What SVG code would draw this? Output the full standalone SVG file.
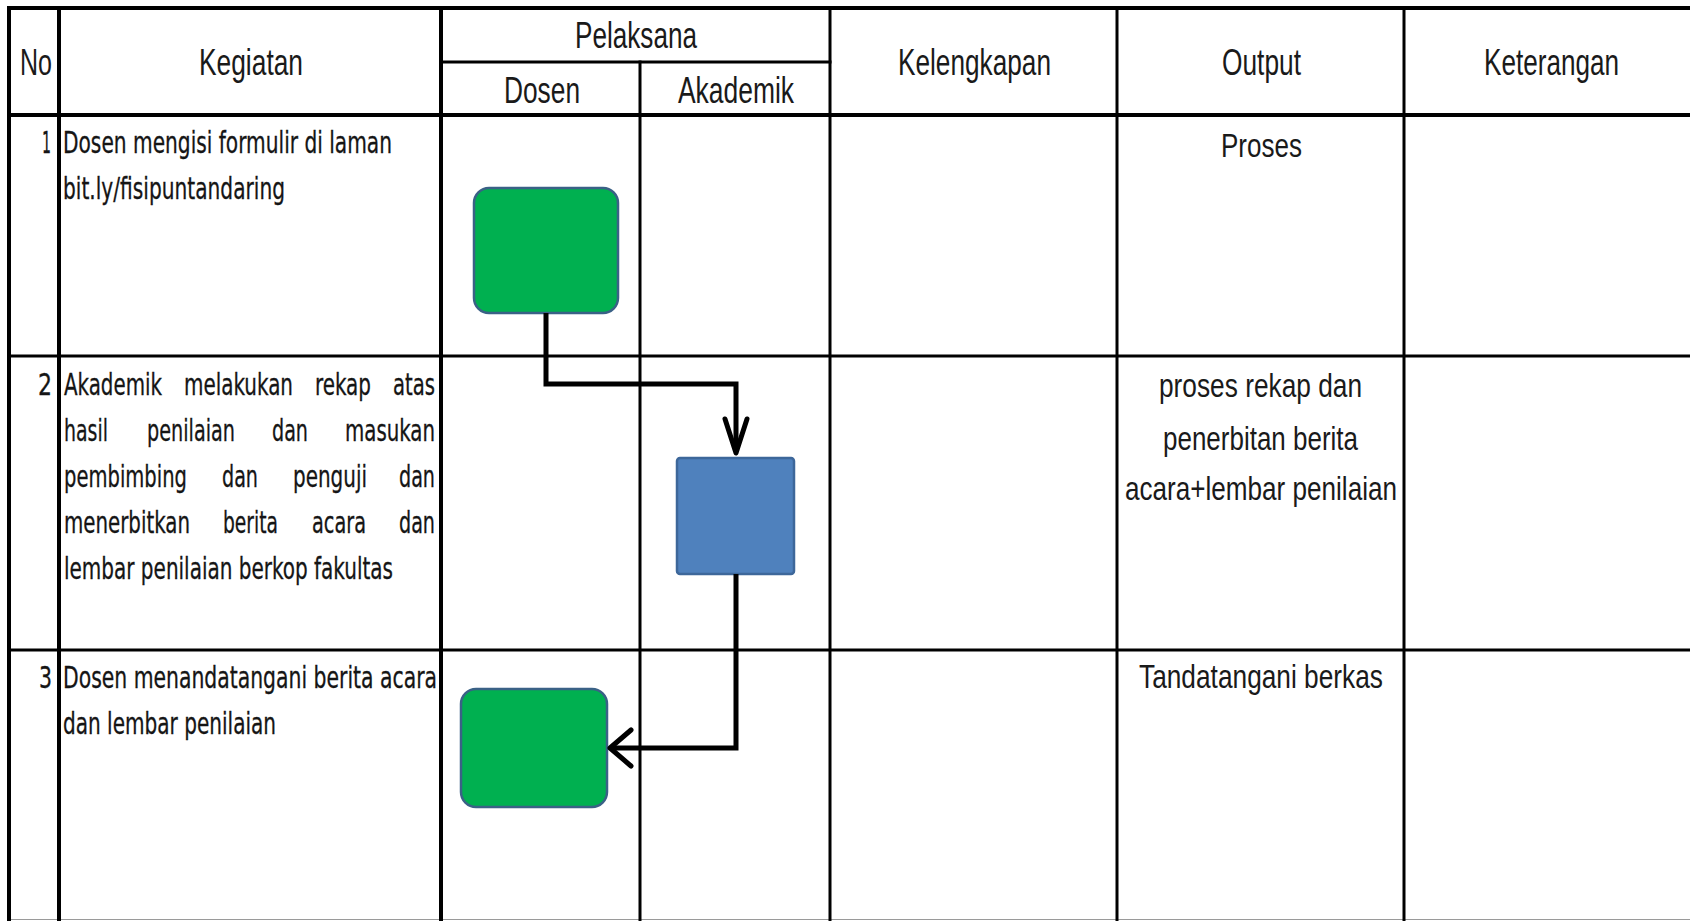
<svg xmlns="http://www.w3.org/2000/svg" width="1690" height="921" viewBox="0 0 1690 921">
  <style>
    .grid line { stroke: #000; stroke-linecap: square; }
    .thick { stroke-width: 4; }
    .mid { stroke-width: 3; }
    .hd { font-family: "Liberation Sans", Arial, sans-serif; font-size: 36px; fill: #1a1a1a; }
    .out { font-family: "Liberation Sans", Arial, sans-serif; font-size: 33px; fill: #1a1a1a; }
    .act { font-family: "DejaVu Sans Condensed", "DejaVu Sans", Verdana, sans-serif; font-size: 30px; fill: #151515; stroke: #151515; stroke-width: 0.3; }
    .start { fill: #00b050; stroke: #3a6186; stroke-width: 2.5; }
    .proc { fill: #4f81bd; stroke: #3d679a; stroke-width: 2.5; }
    .conn { fill: none; stroke: #000; stroke-width: 5; stroke-linejoin: miter; }
    .head { fill: none; stroke: #000; stroke-width: 5; stroke-linecap: round; stroke-linejoin: round; }
  </style>

  <rect x="0" y="0" width="1690" height="921" fill="#ffffff"/>

  <!-- table grid -->
  <g id="grid" class="grid">
    <line class="thick" x1="9" y1="8" x2="1690" y2="8"/>
    <line class="mid" x1="441" y1="62" x2="830" y2="62"/>
    <line class="thick" x1="9" y1="115" x2="1690" y2="115"/>
    <line class="mid" x1="9" y1="356" x2="1690" y2="356"/>
    <line class="mid" x1="9" y1="650" x2="1690" y2="650"/>
    <line x1="9" y1="919.5" x2="1690" y2="919.5" style="stroke:#9a9a9a;stroke-width:1"/>
    <line class="thick" x1="9" y1="8" x2="9" y2="921"/>
    <line class="thick" x1="59" y1="8" x2="59" y2="921"/>
    <line class="thick" x1="441" y1="8" x2="441" y2="921"/>
    <line class="mid" x1="640" y1="62" x2="640" y2="921"/>
    <line class="mid" x1="830" y1="8" x2="830" y2="921"/>
    <line class="mid" x1="1117" y1="8" x2="1117" y2="921"/>
    <line class="mid" x1="1404" y1="8" x2="1404" y2="921"/>
  </g>

  <!-- column headers -->
  <g id="headers">
    <text class="hd" x="20" y="75" textLength="32" lengthAdjust="spacingAndGlyphs">No</text>
    <text class="hd" x="199" y="75" textLength="104" lengthAdjust="spacingAndGlyphs">Kegiatan</text>
    <text class="hd" x="575" y="48" textLength="122" lengthAdjust="spacingAndGlyphs">Pelaksana</text>
    <text class="hd" x="504" y="103" textLength="76" lengthAdjust="spacingAndGlyphs">Dosen</text>
    <text class="hd" x="678" y="103" textLength="116" lengthAdjust="spacingAndGlyphs">Akademik</text>
    <text class="hd" x="898" y="75" textLength="153" lengthAdjust="spacingAndGlyphs">Kelengkapan</text>
    <text class="hd" x="1222" y="75" textLength="79" lengthAdjust="spacingAndGlyphs">Output</text>
    <text class="hd" x="1484" y="75" textLength="135" lengthAdjust="spacingAndGlyphs">Keterangan</text>
  </g>

  <!-- row 1 -->
  <g id="row1">
    <text class="act" x="42" y="153" textLength="9" lengthAdjust="spacingAndGlyphs">1</text>
    <text class="act" x="63" y="153" textLength="329" lengthAdjust="spacingAndGlyphs">Dosen mengisi formulir di laman</text>
    <text class="act" x="63" y="199" textLength="222" lengthAdjust="spacingAndGlyphs">bit.ly/fisipuntandaring</text>
    <text class="out" x="1221" y="157" textLength="81" lengthAdjust="spacingAndGlyphs">Proses</text>
  </g>

  <!-- row 2 (justified paragraph) -->
  <g id="row2">
    <text class="act" x="38" y="395" textLength="14" lengthAdjust="spacingAndGlyphs">2</text>
    <text class="act" x="64" y="395" textLength="98" lengthAdjust="spacingAndGlyphs">Akademik</text>
    <text class="act" x="184" y="395" textLength="109" lengthAdjust="spacingAndGlyphs">melakukan</text>
    <text class="act" x="315" y="395" textLength="56" lengthAdjust="spacingAndGlyphs">rekap</text>
    <text class="act" x="393" y="395" textLength="42" lengthAdjust="spacingAndGlyphs">atas</text>
    <text class="act" x="64" y="441" textLength="44" lengthAdjust="spacingAndGlyphs">hasil</text>
    <text class="act" x="147" y="441" textLength="88" lengthAdjust="spacingAndGlyphs">penilaian</text>
    <text class="act" x="272" y="441" textLength="36" lengthAdjust="spacingAndGlyphs">dan</text>
    <text class="act" x="345" y="441" textLength="90" lengthAdjust="spacingAndGlyphs">masukan</text>
    <text class="act" x="64" y="487" textLength="123" lengthAdjust="spacingAndGlyphs">pembimbing</text>
    <text class="act" x="222" y="487" textLength="36" lengthAdjust="spacingAndGlyphs">dan</text>
    <text class="act" x="293" y="487" textLength="74" lengthAdjust="spacingAndGlyphs">penguji</text>
    <text class="act" x="399" y="487" textLength="36" lengthAdjust="spacingAndGlyphs">dan</text>
    <text class="act" x="64" y="533" textLength="126" lengthAdjust="spacingAndGlyphs">menerbitkan</text>
    <text class="act" x="223" y="533" textLength="55" lengthAdjust="spacingAndGlyphs">berita</text>
    <text class="act" x="312" y="533" textLength="54" lengthAdjust="spacingAndGlyphs">acara</text>
    <text class="act" x="399" y="533" textLength="36" lengthAdjust="spacingAndGlyphs">dan</text>
    <text class="act" x="64" y="579" textLength="329" lengthAdjust="spacingAndGlyphs">lembar penilaian berkop fakultas</text>
    <text class="out" x="1159" y="397" textLength="203" lengthAdjust="spacingAndGlyphs">proses rekap dan</text>
    <text class="out" x="1163" y="450" textLength="195" lengthAdjust="spacingAndGlyphs">penerbitan berita</text>
    <text class="out" x="1125" y="500" textLength="272" lengthAdjust="spacingAndGlyphs">acara+lembar penilaian</text>
  </g>

  <!-- row 3 -->
  <g id="row3">
    <text class="act" x="39" y="688" textLength="13" lengthAdjust="spacingAndGlyphs">3</text>
    <text class="act" x="63" y="688" textLength="374" lengthAdjust="spacingAndGlyphs">Dosen menandatangani berita acara</text>
    <text class="act" x="63" y="734" textLength="213" lengthAdjust="spacingAndGlyphs">dan lembar penilaian</text>
    <text class="out" x="1139" y="688" textLength="244" lengthAdjust="spacingAndGlyphs">Tandatangani berkas</text>
  </g>

  <!-- flow shapes -->
  <g id="node-start">
    <rect class="start" x="474" y="188" width="144" height="125" rx="15" ry="15"/>
  </g>
  <g id="node-rekap">
    <rect class="proc" x="677" y="458" width="117" height="116" rx="3" ry="3"/>
  </g>
  <g id="node-sign">
    <rect class="start" x="461" y="689" width="146" height="118" rx="15" ry="15"/>
  </g>

  <!-- connectors -->
  <g id="connectors">
    <path class="conn" d="M546 313 V384 H736 V451"/>
    <path class="head" d="M725 419 L736 453 L747 419"/>
    <path class="conn" d="M736 574 V748 H612"/>
    <path class="head" d="M631 730 L610 748 L631 766"/>
  </g>
</svg>
